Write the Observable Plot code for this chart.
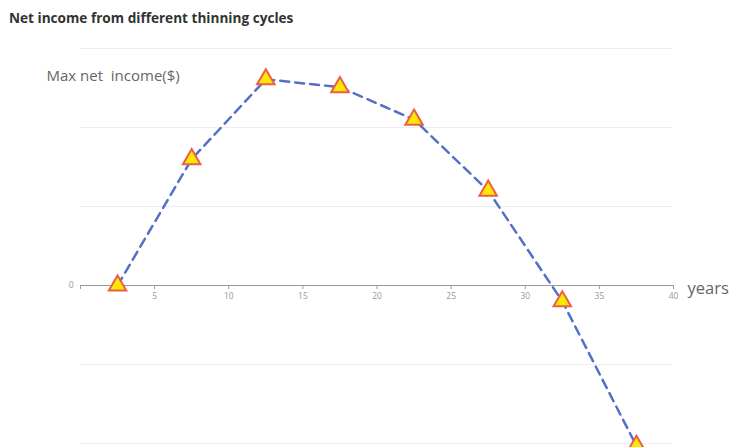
<!DOCTYPE html>
<html>
<head>
<meta charset="utf-8">
<script src="https://cdn.jsdelivr.net/npm/d3@7"></script>
<script src="https://cdn.jsdelivr.net/npm/@observablehq/plot@0.6"></script>
<style>
  html, body { margin: 0; padding: 0; background: #fff; }
  figure { margin: 0; }
  figure h2 {
    font-family: "Open Sans", sans-serif;
    font-weight: 700;
    font-size: 13.6px;
    line-height: 16px;
    color: #333;
    margin: 10px 0 4px 9px;
  }
  svg { display: block; }
</style>
</head>
<body>
<div id="chart"></div>
<script>
const years = [2.5, 7.5, 12.5, 17.5, 22.5, 27.5, 32.5, 37.5];
const income = [0, 1600, 2610, 2510, 2100, 1200, -200, -2030];
const xTicks = [0, 5, 10, 15, 20, 25, 30, 35, 40];
const xTickLabels = [5, 10, 15, 20, 25, 30, 35, 40];
const yGrid = [-2000, -1000, 0, 1000, 2000, 3000];
const yLabels = [0];
const titleText = "Net income from different thinning cycles";
const yAxisName = "Max net  income($)";
const xAxisName = "years";

const data = years.map((y, i) => ({year: y, income: income[i]}));

const chart = Plot.plot({
  width: 733,
  height: 417,
  marginLeft: 80,
  marginRight: 60,
  marginTop: 18,
  marginBottom: 4,
  title: titleText,
  style: {fontFamily: "'Open Sans', sans-serif", background: "#fff"},
  x: {domain: [0, 40], axis: null},
  y: {domain: [-2000, 3000], axis: null},
  marks: [
    Plot.ruleY(yGrid.filter(d => d !== 0), {stroke: "#eeeeee", strokeWidth: 1}),
    Plot.ruleY([0], {stroke: "#9a9a9a", strokeWidth: 1}),
    Plot.ruleX(xTicks, {x: d => d, y1: 0, y2: 0, insetBottom: -4, stroke: "#9a9a9a"}),
    Plot.text(xTickLabels, {x: d => d, y: 0, dy: 11, text: d => String(d), fontSize: 8.5, fill: "#999"}),
    Plot.text(yLabels, {x: 0, y: d => d, dx: -7, text: d => String(d), textAnchor: "end", fontSize: 8.5, fill: "#999"}),
    Plot.text([yAxisName], {frameAnchor: "top-left", dx: -34, dy: 22, textAnchor: "start", fontSize: 15, fill: "#666"}),
    Plot.text([xAxisName], {x: () => 40, y: () => 0, dx: 14, dy: 3, textAnchor: "start", fontSize: 16.5, fill: "#666"}),
    Plot.line(data, {x: "year", y: "income", curve: "linear", stroke: "#5470c6", strokeWidth: 2.5, strokeDasharray: "9,6"}),
    Plot.dot(data, {x: "year", y: "income", symbol: "triangle", r: 6.5, fill: "#ffe800", stroke: "#e8604c", strokeWidth: 2})
  ]
});
document.getElementById("chart").appendChild(chart);
</script>
</body>
</html>
